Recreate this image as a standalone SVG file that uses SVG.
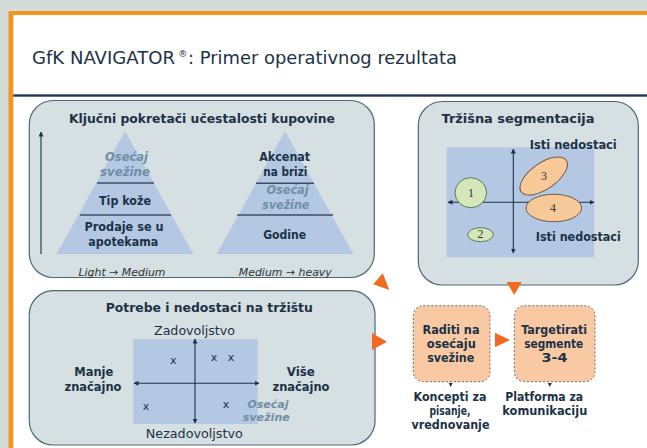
<svg xmlns="http://www.w3.org/2000/svg" width="647" height="448" viewBox="0 0 647 448">
<defs>
<marker id="ah" viewBox="0 0 10 10" refX="9" refY="5" markerWidth="5" markerHeight="5" orient="auto-start-reverse" markerUnits="userSpaceOnUse">
<path d="M0,0 L10,5 L0,10 z" fill="#1b3246"/>
</marker>
<style>
.t{font-family:"DejaVu Sans","Liberation Sans",sans-serif;fill:#1b3246;text-anchor:middle}
.ttl{font-family:"DejaVu Sans","Liberation Sans",sans-serif;fill:#1b3246;font-size:18.5px}
.b{font-weight:bold;font-size:12px}
.h{font-weight:bold;font-size:12.5px}
.i{font-style:italic;font-weight:bold;font-size:12px;fill:#6f8fa6}
.l{font-style:italic;font-size:10.5px;fill:#333}
.n{font-family:"Liberation Serif",serif;font-size:12px;fill:#333;text-anchor:middle}
.panel{fill:#d6dfe1;stroke:#4a6878;stroke-width:1.2}
.blue{fill:#b4c8e4}
.div{stroke:#3b4f60;stroke-width:1.5}
.ax{stroke:#1b3246;stroke-width:1.1;fill:none}
.or{fill:#f26a21}
.peach{fill:#f9c9a4;stroke:#6b6b6b;stroke-width:1;stroke-dasharray:2 2}
</style>
</defs>
<rect width="647" height="448" fill="#d3dcd9"/>
<rect x="8.5" y="11" width="640" height="440" fill="#f7941d"/>
<rect x="13.3" y="15" width="640" height="440" fill="#ffffff"/>
<g id="title">
<text class="ttl" x="32" y="64" textLength="143" lengthAdjust="spacingAndGlyphs">GfK NAVIGATOR</text>
<text class="ttl" x="178" y="57" style="font-size:9.5px">®</text>
<text class="ttl" x="188" y="64" textLength="269" lengthAdjust="spacingAndGlyphs">: Primer operativnog rezultata</text>
</g>
<rect x="13.3" y="94.3" width="640" height="2.4" fill="#1d3a52"/>

<g id="panel-drivers">
<rect class="panel" x="29.3" y="100.5" width="345" height="177" rx="24"/>
<text class="t h" x="202" y="123" textLength="266" lengthAdjust="spacingAndGlyphs">Ključni pokretači učestalosti kupovine</text>
<line class="ax" x1="41" y1="254" x2="41" y2="132" marker-end="url(#ah)"/>
<polygon class="blue" points="125,131 56.7,254 193.3,254"/>
<line class="div" x1="97" y1="183" x2="154" y2="183"/>
<line class="div" x1="80" y1="215" x2="171" y2="215"/>
<text class="t i" x="126.5" y="160.7" textLength="43" lengthAdjust="spacingAndGlyphs">Osećaj</text>
<text class="t i" x="125" y="176" textLength="50" lengthAdjust="spacingAndGlyphs">svežine</text>
<text class="t b" x="125" y="205" textLength="52" lengthAdjust="spacingAndGlyphs">Tip kože</text>
<text class="t b" x="124" y="230.7" textLength="79" lengthAdjust="spacingAndGlyphs">Prodaje se u</text>
<text class="t b" x="123.3" y="245.7" textLength="70" lengthAdjust="spacingAndGlyphs">apotekama</text>
<polygon class="blue" points="285,131 216.7,254 353.3,254"/>
<line class="div" x1="256" y1="183.3" x2="314" y2="183.3"/>
<line class="div" x1="237" y1="215" x2="333" y2="215"/>
<text class="t b" x="284.7" y="160.7" textLength="51" lengthAdjust="spacingAndGlyphs">Akcenat</text>
<text class="t b" x="285.3" y="176" textLength="44" lengthAdjust="spacingAndGlyphs">na brizi</text>
<text class="t i" x="287.5" y="194.3" textLength="42" lengthAdjust="spacingAndGlyphs">Osećaj</text>
<text class="t i" x="285.8" y="209" textLength="47" lengthAdjust="spacingAndGlyphs">svežine</text>
<text class="t b" x="284.7" y="239" textLength="43" lengthAdjust="spacingAndGlyphs">Godine</text>
<text class="t l" x="122" y="275.5" textLength="87" lengthAdjust="spacingAndGlyphs">Light → Medium</text>
<text class="t l" x="285.3" y="275.5" textLength="93" lengthAdjust="spacingAndGlyphs">Medium → heavy</text>
</g>

<g id="panel-segmentation">
<rect class="panel" x="418.3" y="101.5" width="220" height="183.5" rx="24"/>
<text class="t h" x="518" y="123.3" textLength="153" lengthAdjust="spacingAndGlyphs">Tržišna segmentacija</text>
<rect class="blue" x="446.7" y="147.3" width="147.6" height="110"/>
<line class="ax" x1="513.3" y1="253" x2="513.3" y2="149" marker-start="url(#ah)" marker-end="url(#ah)"/>
<line class="ax" x1="448" y1="202.3" x2="594" y2="202.3" marker-start="url(#ah)" marker-end="url(#ah)"/>
<ellipse cx="470.8" cy="192.7" rx="15.8" ry="15" fill="#d5e6bb" stroke="#5c7a52" stroke-width="1"/>
<ellipse cx="480.5" cy="234.7" rx="12.8" ry="7" fill="#d5e6bb" stroke="#5c7a52" stroke-width="1"/>
<ellipse cx="543.7" cy="176" rx="27.5" ry="13" transform="rotate(-35 543.7 176)" fill="#f7c999" stroke="#6d5a48" stroke-width="1"/>
<ellipse cx="553.8" cy="208" rx="27.8" ry="13.7" fill="#f7c999" stroke="#6d5a48" stroke-width="1"/>
<text class="n" x="471" y="196.7">1</text>
<text class="n" x="480.5" y="238.2">2</text>
<text class="n" x="544" y="180">3</text>
<text class="n" x="553" y="211.7">4</text>
<text class="t b" x="573.3" y="149" textLength="87" lengthAdjust="spacingAndGlyphs">Isti nedostaci</text>
<text class="t b" x="578.3" y="240.7" textLength="85" lengthAdjust="spacingAndGlyphs">Isti nedostaci</text>
</g>

<g id="panel-needs">
<rect class="panel" x="29.3" y="290.7" width="345.7" height="154.3" rx="24"/>
<text class="t h" x="209.3" y="312.3" textLength="207" lengthAdjust="spacingAndGlyphs">Potrebe i nedostaci na tržištu</text>
<rect class="blue" x="133.3" y="339" width="124.4" height="85"/>
<line class="ax" x1="195" y1="423" x2="195" y2="339" marker-start="url(#ah)" marker-end="url(#ah)"/>
<line class="ax" x1="134" y1="383.3" x2="259" y2="383.3" marker-start="url(#ah)" marker-end="url(#ah)"/>
<text class="t" x="194.5" y="335" font-size="12" textLength="81" lengthAdjust="spacingAndGlyphs">Zadovoljstvo</text>
<text class="t" x="194.3" y="438.3" font-size="12" textLength="97" lengthAdjust="spacingAndGlyphs">Nezadovoljstvo</text>
<text class="t b" x="93.8" y="375.7" textLength="39" lengthAdjust="spacingAndGlyphs">Manje</text>
<text class="t b" x="93" y="391" textLength="57" lengthAdjust="spacingAndGlyphs">značajno</text>
<text class="t b" x="300.8" y="375.7" textLength="28" lengthAdjust="spacingAndGlyphs">Više</text>
<text class="t b" x="301" y="391" textLength="57" lengthAdjust="spacingAndGlyphs">značajno</text>
<g font-family="DejaVu Sans,sans-serif" font-size="11" fill="#1b3246" text-anchor="middle">
<text x="173.3" y="364">x</text>
<text x="214" y="361">x</text>
<text x="231" y="361">x</text>
<text x="146" y="410">x</text>
<text x="226" y="408">x</text>
</g>
<text class="t i" x="268" y="408.3" style="font-size:10px" textLength="41" lengthAdjust="spacingAndGlyphs">Osećaj</text>
<text class="t i" x="266.3" y="420.5" style="font-size:10px" textLength="47" lengthAdjust="spacingAndGlyphs">svežine</text>
</g>

<g id="box-freshness">
<rect class="peach" x="413.3" y="305.7" width="76.7" height="76" rx="10"/>
<text class="t b" x="451" y="334" textLength="57" lengthAdjust="spacingAndGlyphs">Raditi na</text>
<text class="t b" x="451.3" y="347.5" textLength="49" lengthAdjust="spacingAndGlyphs">osećaju</text>
<text class="t b" x="450.7" y="361.7" textLength="47" lengthAdjust="spacingAndGlyphs">svežine</text>
</g>
<g id="box-target">
<rect class="peach" x="514.3" y="305.7" width="80.7" height="76" rx="10"/>
<text class="t b" x="554.2" y="334" textLength="66" lengthAdjust="spacingAndGlyphs">Targetirati</text>
<text class="t b" x="553.7" y="347.5" textLength="59" lengthAdjust="spacingAndGlyphs">segmente</text>
<text class="t b" x="554.5" y="361.7" textLength="26" lengthAdjust="spacingAndGlyphs">3-4</text>
</g>
<g id="label-concepts">
<text class="t b" x="450" y="400.7" textLength="73" lengthAdjust="spacingAndGlyphs">Koncepti za</text>
<text class="t b" x="450" y="415" textLength="41" lengthAdjust="spacingAndGlyphs">pisanje,</text>
<text class="t b" x="450.5" y="429" textLength="78" lengthAdjust="spacingAndGlyphs">vrednovanje</text>
</g>
<g id="label-platform">
<text class="t b" x="544.2" y="400.7" textLength="78" lengthAdjust="spacingAndGlyphs">Platforma za</text>
<text class="t b" x="544.8" y="415" textLength="85" lengthAdjust="spacingAndGlyphs">komunikaciju</text>
</g>

<g id="connectors">
<polygon class="or" points="382.7,273.3 373.3,284.3 389.3,290"/>
<polygon class="or" points="372,333 372,350 387,341.7"/>
<polygon class="or" points="495,332.7 495,347.3 510,340"/>
<polygon class="or" points="506.7,282 521.7,282 514.2,295"/>
<polygon points="448.7,383 452.7,383 450.7,387" fill="#1b3246"/>
<polygon points="547.8,383 551.8,383 549.8,387" fill="#1b3246"/>
</g>
</svg>
